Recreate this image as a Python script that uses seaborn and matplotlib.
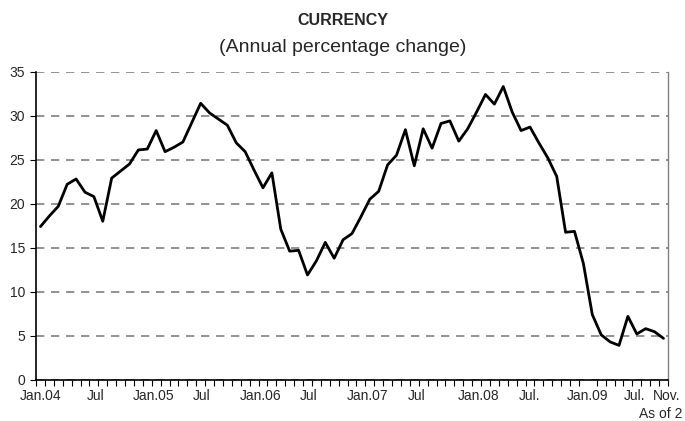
import numpy as np
import pandas as pd
import seaborn as sns
import matplotlib.pyplot as plt

# Monthly currency growth, Jan.2004 - Nov.2009 (annual % change)
values_2004 = [17.4, 18.6, 19.7, 22.2, 22.8, 21.3, 20.8, 18.0, 22.9, 23.7, 24.5, 26.1]
values_2005 = [26.2, 28.3, 25.9, 26.4, 27.0, 29.2, 31.4, 30.3, 29.6, 28.9, 26.9, 25.9]
values_2006 = [23.8, 21.8, 23.5, 17.1, 14.6, 14.7, 11.9, 13.5, 15.6, 13.8, 15.9, 16.6]
values_2007 = [18.5, 20.5, 21.4, 24.4, 25.5, 28.4, 24.3, 28.5, 26.3, 29.1, 29.4, 27.1]
values_2008 = [28.5, 30.4, 32.4, 31.3, 33.3, 30.4, 28.3, 28.7, 26.9, 25.2, 23.1, 16.75]
values_2009 = [16.85, 13.2, 7.4, 5.1, 4.3, 3.9, 7.2, 5.2, 5.8, 5.45, 4.7]

tick_labels = ['Jan.04', 'Jul', 'Jan.05', 'Jul', 'Jan.06', 'Jul', 'Jan.07', 'Jul',
               'Jan.08', 'Jul.', 'Jan.09', 'Jul.', 'Nov.']

values = values_2004 + values_2005 + values_2006 + values_2007 + values_2008 + values_2009
df = pd.DataFrame({'month': np.arange(len(values)), 'pct': values})

sns.set_style('white')
plt.rcParams['font.family'] = ['Liberation Sans', 'DejaVu Sans']

fig = plt.figure(figsize=(6.85, 4.21), dpi=100)
ax = fig.add_axes([0.0526, 0.098, 0.9225, 0.732])

sns.lineplot(data=df, x='month', y='pct', ax=ax, color='black', linewidth=2)

ax.set_xlim(-0.5, len(values) - 0.5)
ax.set_ylim(0, 35)
ax.set_yticks(range(0, 36, 5))
ax.yaxis.grid(True, linestyle=(0, (5, 4)), color='#808080', linewidth=1.2)
ax.set_axisbelow(True)

# label spots (in month units) as they sit in the original chart
label_pos = [0.05, 6.2, 12.75, 18.1, 24.7, 30.1, 36.8, 42.3, 49.2, 55.0, 61.5, 66.8, 70.4]
ax.set_xticks(label_pos)
ax.set_xticklabels(tick_labels)
ax.set_xticks(np.arange(-0.5, len(values), 1), minor=True)
ax.tick_params(axis='x', which='major', bottom=False, length=0, labelsize=10, pad=7)
ax.tick_params(axis='x', which='minor', bottom=True, length=4, width=0.8,
               direction='out', color='black')
ax.tick_params(axis='y', left=True, length=4, width=0.8, labelsize=10, pad=4, color='black')

ax.set_xlabel('')
ax.set_ylabel('')

for s in ['left', 'bottom']:
    ax.spines[s].set_color('black')
    ax.spines[s].set_linewidth(1.2)
    ax.spines[s].set_zorder(5)
ax.spines['top'].set_visible(False)
ax.spines['right'].set_color('#808080')
ax.spines['right'].set_linewidth(1)

fig.text(0.5, 0.952, 'CURRENCY', ha='center', va='center', fontsize=11.5, fontweight='bold')
fig.text(0.5, 0.886, '(Annual percentage change)', ha='center', va='center', fontsize=14)
fig.text(0.997, 0.0, 'As of 2', ha='right', va='bottom', fontsize=10)

fig.savefig('out.png', dpi=100)
